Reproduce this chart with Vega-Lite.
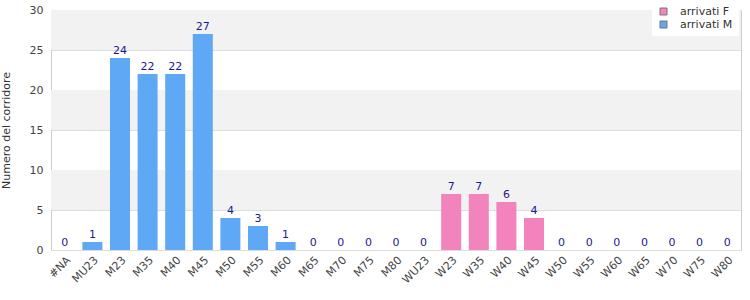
{
  "$schema": "https://vega.github.io/schema/vega-lite/v6.json",
  "width": 690,
  "height": 240,
  "autosize": {"type": "none"},
  "padding": {"left": 51, "top": 10, "right": 9, "bottom": 50},
  "config": {
    "font": "DejaVu Sans",
    "view": {"stroke": "#cccccc", "strokeWidth": 1},
    "axis": {"labelFont": "DejaVu Sans", "titleFont": "DejaVu Sans", "labelColor": "#444444", "titleColor": "#333333", "labelFontSize": 11, "titleFontSize": 11, "titleFontWeight": "normal", "domain": false, "ticks": false},
    "axisY": {"values": [0, 5, 10, 15, 20, 25, 30], "gridColor": "#dddddd", "labelPadding": 8, "titlePadding": 18, "labelOverlap": false}
  },
  "datasets": {
    "bars": [
      {"cat": "#NA", "n": 0, "serie": "arrivati M"},
      {"cat": "MU23", "n": 1, "serie": "arrivati M"},
      {"cat": "M23", "n": 24, "serie": "arrivati M"},
      {"cat": "M35", "n": 22, "serie": "arrivati M"},
      {"cat": "M40", "n": 22, "serie": "arrivati M"},
      {"cat": "M45", "n": 27, "serie": "arrivati M"},
      {"cat": "M50", "n": 4, "serie": "arrivati M"},
      {"cat": "M55", "n": 3, "serie": "arrivati M"},
      {"cat": "M60", "n": 1, "serie": "arrivati M"},
      {"cat": "M65", "n": 0, "serie": "arrivati M"},
      {"cat": "M70", "n": 0, "serie": "arrivati M"},
      {"cat": "M75", "n": 0, "serie": "arrivati M"},
      {"cat": "M80", "n": 0, "serie": "arrivati M"},
      {"cat": "WU23", "n": 0, "serie": "arrivati F"},
      {"cat": "W23", "n": 7, "serie": "arrivati F"},
      {"cat": "W35", "n": 7, "serie": "arrivati F"},
      {"cat": "W40", "n": 6, "serie": "arrivati F"},
      {"cat": "W45", "n": 4, "serie": "arrivati F"},
      {"cat": "W50", "n": 0, "serie": "arrivati F"},
      {"cat": "W55", "n": 0, "serie": "arrivati F"},
      {"cat": "W60", "n": 0, "serie": "arrivati F"},
      {"cat": "W65", "n": 0, "serie": "arrivati F"},
      {"cat": "W70", "n": 0, "serie": "arrivati F"},
      {"cat": "W75", "n": 0, "serie": "arrivati F"},
      {"cat": "W80", "n": 0, "serie": "arrivati F"}
    ],
    "bands": [
      {"lo": 5, "hi": 10},
      {"lo": 15, "hi": 20},
      {"lo": 25, "hi": 30}
    ]
  },
  "layer": [
    {
      "data": {"name": "bands"},
      "mark": {"type": "rect", "color": "#f2f2f2"},
      "encoding": {
        "y": {"field": "lo", "type": "quantitative", "scale": {"domain": [0, 30], "nice": false},
          "title": "Numero del corridore"},
        "y2": {"field": "hi"}
      }
    },
    {
      "data": {"name": "bars"},
      "layer": [
        {
          "mark": {"type": "bar"},
          "encoding": {
            "x": {"field": "cat", "type": "nominal", "sort": null, "scale": {"paddingInner": 0.275, "paddingOuter": 0.1375},
              "axis": {"title": null, "labelAngle": -45, "labelPadding": 4, "grid": false}},
            "y": {"field": "n", "type": "quantitative", "scale": {"domain": [0, 30], "nice": false}, "title": "Numero del corridore"},
            "color": {"field": "serie", "type": "nominal",
              "scale": {"domain": ["arrivati F", "arrivati M"], "range": ["#f283bc", "#5fa8f5"]},
              "legend": {"title": null, "orient": "none", "legendX": 601, "legendY": -10, "fillColor": "white", "padding": 6, "symbolType": "square", "symbolSize": 49, "symbolStrokeColor": "#777777", "symbolStrokeWidth": 1, "labelFontSize": 11, "labelColor": "#333333", "labelFont": "DejaVu Sans", "labelOffset": 11, "rowPadding": 1, "symbolOpacity": 1}}
          }
        },
        {
          "mark": {"type": "text", "dy": -7, "fontSize": 11, "color": "#1a1a90"},
          "encoding": {
            "x": {"field": "cat", "type": "nominal", "sort": null},
            "y": {"field": "n", "type": "quantitative", "title": "Numero del corridore"},
            "text": {"field": "n", "type": "quantitative"}
          }
        }
      ]
    }
  ]
}
